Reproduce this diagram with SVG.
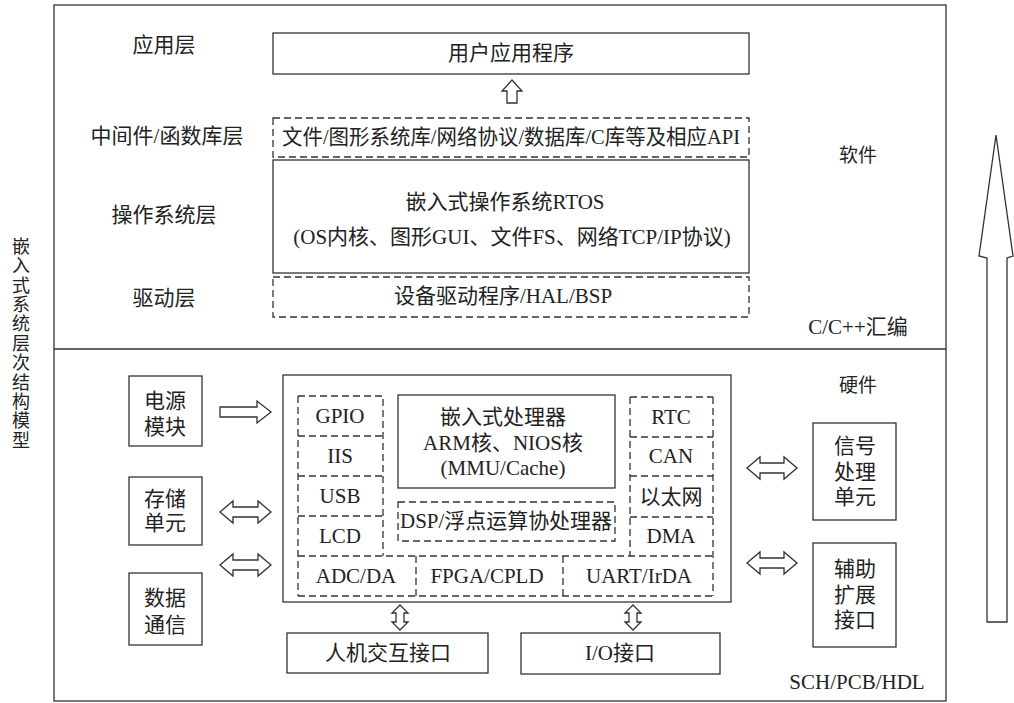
<svg xmlns="http://www.w3.org/2000/svg" width="1014" height="703" viewBox="0 0 1014 703">
<style>
.ln{fill:none;stroke:#333;stroke-width:1.3}
.ds{fill:none;stroke:#333;stroke-width:1.3;stroke-dasharray:7 4}
.ar{fill:#fff;stroke:#333;stroke-width:1.3;stroke-linejoin:miter}
.t{font-family:"Liberation Serif","Noto Sans CJK SC",serif;font-size:21px;fill:#222;text-anchor:middle;dominant-baseline:central}
.s{font-family:"Noto Sans CJK SC","Noto Sans",sans-serif;font-size:19px;fill:#222;text-anchor:middle;dominant-baseline:central}
</style>
<rect x="0" y="0" width="1014" height="703" fill="#fff"/>
<g id="frame">
<rect class="ln" x="54" y="5" width="892" height="696"/>
<line class="ln" x1="54" y1="349" x2="946" y2="349"/>
</g>
<g id="title">
<text x="21" y="237" style="writing-mode:vertical-rl;font-family:'Noto Sans CJK SC',sans-serif;font-size:18px;fill:#222;letter-spacing:1.4px">嵌入式系统层次结构模型</text>
</g>
<g id="layer-labels">
<text class="t" x="164" y="45">应用层</text>
<text class="t" x="167" y="136">中间件/函数库层</text>
<text class="t" x="164" y="215">操作系统层</text>
<text class="t" x="164" y="298">驱动层</text>
</g>
<g id="app">
<rect class="ln" x="273" y="33" width="476" height="41"/>
<text class="t" x="511" y="53">用户应用程序</text>
</g>
<g id="middleware">
<rect class="ds" x="273" y="118" width="476" height="39"/>
<text class="t" x="511" y="137" textLength="458" lengthAdjust="spacingAndGlyphs">文件/图形系统库/网络协议/数据库/C库等及相应API</text>
</g>
<g id="os">
<rect class="ln" x="273" y="160" width="476" height="113"/>
<text class="t" x="505" y="202">嵌入式操作系统RTOS</text>
<text class="t" x="512" y="237">(OS内核、图形GUI、文件FS、网络TCP/IP协议)</text>
</g>
<g id="driver">
<rect class="ds" x="273" y="277" width="476" height="40"/>
<text class="t" x="503" y="296">设备驱动程序/HAL/BSP</text>
</g>
<g id="sw-labels">
<text class="s" x="858" y="153">软件</text>
<text class="t" x="858" y="327">C/C++汇编</text>
<text class="s" x="858" y="383">硬件</text>
<text class="t" x="857" y="682">SCH/PCB/HDL</text>
</g>
<g id="power">
<rect class="ln" x="129" y="376" width="73" height="70"/>
<text class="t" x="165" y="401">电源</text>
<text class="t" x="165" y="427">模块</text>
</g>
<g id="storage">
<rect class="ln" x="129" y="477" width="73" height="68"/>
<text class="t" x="165" y="499">存储</text>
<text class="t" x="165" y="523">单元</text>
</g>
<g id="datacomm">
<rect class="ln" x="129" y="573" width="73" height="72"/>
<text class="t" x="165" y="598">数据</text>
<text class="t" x="165" y="625">通信</text>
</g>
<g id="mcu">
<rect class="ln" x="283" y="375" width="448" height="227"/>
<path class="ds" d="M298,396H383V556M298,396V596M298,436H383M298,476H383M298,516H383M298,556H713M298,596H713M416,556V596M563,556V596M713,397V596M630,397H713M630,397V556M630,437H713M630,476H713M630,517H713"/>
<g id="gpio"><text class="t" x="340" y="416">GPIO</text></g>
<g id="iis"><text class="t" x="340" y="456">IIS</text></g>
<g id="usb"><text class="t" x="340" y="496">USB</text></g>
<g id="lcd"><text class="t" x="340" y="536">LCD</text></g>
<g id="adc"><text class="t" x="356" y="576">ADC/DA</text></g>
<g id="fpga"><text class="t" x="487" y="576">FPGA/CPLD</text></g>
<g id="uart"><text class="t" x="639" y="576">UART/IrDA</text></g>
<g id="rtc"><text class="t" x="671" y="417">RTC</text></g>
<g id="can"><text class="t" x="671" y="456">CAN</text></g>
<g id="eth"><text class="t" x="671" y="497">以太网</text></g>
<g id="dma"><text class="t" x="671" y="536">DMA</text></g>
<g id="cpu">
<rect class="ln" x="398" y="395" width="217" height="93"/>
<text class="t" x="503" y="417">嵌入式处理器</text>
<text class="t" x="503" y="443">ARM核、NIOS核</text>
<text class="t" x="503" y="468">(MMU/Cache)</text>
</g>
<g id="dsp">
<rect class="ds" x="398" y="502" width="217" height="39"/>
<text class="t" x="506" y="521" textLength="212" lengthAdjust="spacingAndGlyphs">DSP/浮点运算协处理器</text>
</g>
</g>
<g id="hmi">
<rect class="ln" x="287" y="633" width="201" height="40"/>
<text class="t" x="388" y="653">人机交互接口</text>
</g>
<g id="io">
<rect class="ln" x="521" y="633" width="199" height="41"/>
<text class="t" x="620" y="653">I/O接口</text>
</g>
<g id="signal">
<rect class="ln" x="813" y="423" width="83" height="97"/>
<text class="t" x="855" y="446">信号</text>
<text class="t" x="855" y="472">处理</text>
<text class="t" x="855" y="497">单元</text>
</g>
<g id="expand">
<rect class="ln" x="813" y="543" width="83" height="104"/>
<text class="t" x="855" y="569">辅助</text>
<text class="t" x="855" y="595">扩展</text>
<text class="t" x="855" y="620">接口</text>
</g>
<g id="connectors">
<path class="ar" d="M512,80L522,91H517V103H507V91H502Z"/>
<path class="ar" d="M220,407H257V401L271,412L257,423V417H220Z"/>
<path class="ar" d="M220,512L233,501V507H258V501L271,512L258,523V517H233V523Z"/>
<path class="ar" d="M220,565L233,554V560H258V554L271,565L258,576V570H233V576Z"/>
<path class="ar" d="M747,468L760,457V463H784V457L797,468L784,479V473H760V479Z"/>
<path class="ar" d="M747,563L760,552V558H784V552L797,563L784,574V568H760V574Z"/>
<path class="ar" d="M400,605L408,613H404V622H408L400,630L392,622H396V613H392Z"/>
<path class="ar" d="M633,605L641,613H637V622H641L633,630L625,622H629V613H625Z"/>
<path class="ar" d="M996,135L1013,256L1007,258V622H987V258L979,256Z"/>
</g>
</svg>
